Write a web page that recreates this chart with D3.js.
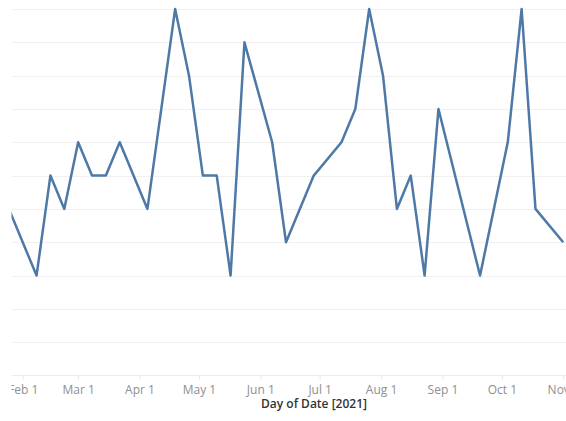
<!DOCTYPE html>
<html>
<head>
<meta charset="utf-8">
<script src="https://cdn.jsdelivr.net/npm/d3@7"></script>
<style>
  body { margin: 0; background: #fff; }
  svg { display: block; }
</style>
</head>
<body>
<div id="viz"></div>
<script>
// weekly counts, 2021 (gaps = weeks with no record)
var dates = ["2021-01-25","2021-02-08","2021-02-15","2021-02-22","2021-03-01","2021-03-08",
  "2021-03-15","2021-03-22","2021-04-05","2021-04-19","2021-04-26","2021-05-03","2021-05-10",
  "2021-05-17","2021-05-24","2021-06-07","2021-06-14","2021-06-28","2021-07-12","2021-07-19",
  "2021-07-26","2021-08-02","2021-08-09","2021-08-16","2021-08-23","2021-08-30","2021-09-20",
  "2021-10-04","2021-10-11","2021-10-18","2021-11-01"];
var values = [5,3,6,5,7,6,6,7,5,11,9,6,6,3,10,7,4,6,7,8,11,9,5,6,3,8,3,7,11,5,4];
var tickDates = ["2021-02-01","2021-03-01","2021-04-01","2021-05-01","2021-06-01",
  "2021-07-01","2021-08-01","2021-09-01","2021-10-01","2021-11-01"];
var yTicks = [1,2,3,4,5,6,7,8,9,10,11];
var xTitle = "Day of Date [2021]";

width = 566;
height = 421;
plotLeft = 11.5;
baseY = 375.5;

parseDate = d3.timeParse("%Y-%m-%d");
data = dates.map(function(d, i) { return {date: parseDate(d), value: values[i]}; });

var x = d3.scaleTime()
  .domain([parseDate("2021-02-01"), parseDate("2021-11-01")])
  .range([22.7, 563.2]);

var y = d3.scaleLinear()
  .domain([0, 11])
  .range([baseY, 9]);

svg = d3.select("#viz").append("svg")
  .attr("width", width)
  .attr("height", height);

svg.append("clipPath").attr("id", "clip")
  .append("rect")
  .attr("x", plotLeft).attr("y", 0)
  .attr("width", width - plotLeft).attr("height", height);

chart = svg.append("g").attr("clip-path", "url(#clip)");

// horizontal gridlines
chart.append("g").selectAll("line").data(yTicks).enter().append("line")
  .attr("x1", plotLeft).attr("x2", width)
  .attr("y1", function(d) { return Math.round(y(d)) + 0.5; })
  .attr("y2", function(d) { return Math.round(y(d)) + 0.5; })
  .attr("stroke", "#f0f0f0")
  .attr("stroke-width", 1);

// x axis
xAxis = chart.append("g")
  .attr("transform", "translate(0," + baseY + ")")
  .call(d3.axisBottom(x)
    .tickValues(tickDates.map(parseDate))
    .tickFormat(d3.timeFormat("%b %-d"))
    .tickSize(4)
    .tickPadding(6)
    .tickSizeOuter(0));

xAxis.select(".domain")
  .attr("d", "M" + plotLeft + ",0H" + width)
  .attr("stroke", "#ececec");
xAxis.selectAll(".tick line").attr("stroke", "#e6e6e6");
xAxis.selectAll(".tick text")
  .attr("fill", "#8f8f8f")
  .style("font-family", "'Open Sans', sans-serif")
  .style("font-size", "12px");

// line
var line = d3.line()
  .x(function(d) { return x(d.date); })
  .y(function(d) { return y(d.value); });

chart.append("path").datum(data)
  .attr("d", line)
  .attr("fill", "none")
  .attr("stroke", "#4e79a7")
  .attr("stroke-width", 2.5)
  .attr("stroke-linejoin", "round");

// axis title
svg.append("text")
  .attr("x", 314)
  .attr("y", 408)
  .attr("text-anchor", "middle")
  .attr("fill", "#333")
  .style("font-family", "'Open Sans', sans-serif")
  .style("font-size", "12px")
  .style("font-weight", 600)
  .text(xTitle);
</script>
</body>
</html>
